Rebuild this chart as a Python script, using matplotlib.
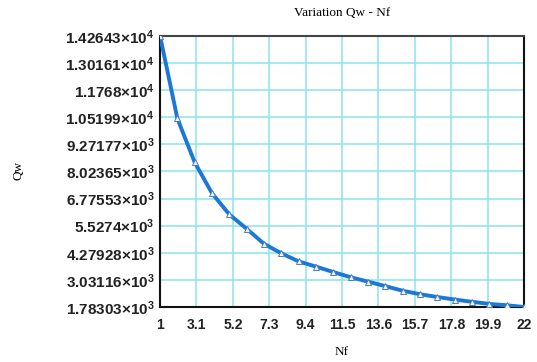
#!/usr/bin/env python3
"""Variation Qw - Nf: recreate the decay curve with the odd tick labels."""

import matplotlib
matplotlib.use("Agg")
import matplotlib.pyplot as plt

# values
nf = [1, 2, 3, 4, 5, 6, 7, 8, 9, 10, 11,
      12, 13, 14, 15, 16, 17, 18, 19, 20, 21, 22]
qw = [14264, 10460, 8440, 7015, 6040, 5380, 4690, 4250, 3880, 3640, 3390,
      3150, 2950, 2740, 2530, 2370, 2240, 2125, 2020, 1925, 1860, 1783]

xticks = [1, 3.1, 5.2, 7.3, 9.4, 11.5, 13.6, 15.7, 17.8, 19.9, 22]
xticklabels = ["1", "3.1", "5.2", "7.3", "9.4", "11.5", "13.6", "15.7",
               "17.8", "19.9", "22"]
yticks = [1783.03, 3031.16, 4279.28, 5527.40, 6775.53, 8023.65,
          9271.77, 10519.9, 11768.0, 13016.1, 14264.3]
ytick_mant = ["1.78303", "3.03116", "4.27928", "5.5274", "6.77553",
              "8.02365", "9.27177", "1.05199", "1.1768", "1.30161", "1.42643"]
ytick_exp = [3, 3, 3, 3, 3, 3, 3, 4, 4, 4, 4]

plt.rcParams["mathtext.fontset"] = "custom"
plt.rcParams["mathtext.rm"] = "Liberation Sans:bold"
plt.rcParams["mathtext.bf"] = "Liberation Sans:bold"
plt.rcParams["mathtext.it"] = "Liberation Sans:bold"

fig = plt.figure(figsize=(5.37, 3.62), dpi=100)
ax = fig.add_axes([0.298, 0.152, 0.678, 0.749])

ax.plot(nf, qw, "-", color="#1c78d6", linewidth=2.8, zorder=3)
ax.plot(nf, qw, "^", mfc="#eef4fb", mec="#4a80bc", mew=0.7, ms=4.5,
        linestyle="none", zorder=4)

ax.set_xlim(xticks[0], xticks[-1])
ax.set_ylim(yticks[0], yticks[-1])
ax.set_xticks(xticks)
ax.set_xticklabels(xticklabels, fontfamily="Liberation Sans",
                   fontweight="bold", fontsize=10, color="#222222")
ax.set_yticks(yticks)
ax.set_yticklabels([r"$\mathrm{%s}{\times}\mathrm{10}^{%d}$" % (m, e)
                    for m, e in zip(ytick_mant, ytick_exp)],
                   fontsize=11, color="#222222")
ax.tick_params(axis="both", length=0)
ax.tick_params(axis="x", pad=8)
ax.tick_params(axis="y", pad=4)

ax.grid(True, color="#8ae4ea", linewidth=1.1)
ax.set_axisbelow(True)
for s in ax.spines.values():
    s.set_color("#111111")
    s.set_linewidth(1.5)
ax.spines["top"].set_color("#444444")

fig.text(0.637, 0.965, "Variation Qw - Nf", ha="center", va="center",
         fontfamily="Liberation Serif", fontsize=9.5)
fig.text(0.637, 0.027, "Nf", ha="center", va="center",
         fontfamily="Liberation Serif", fontsize=9.5)
fig.text(0.034, 0.53, "Qw", ha="center", va="center", rotation=90,
         fontfamily="Liberation Serif", fontsize=9.5)

fig.savefig("out.png", dpi=100)
